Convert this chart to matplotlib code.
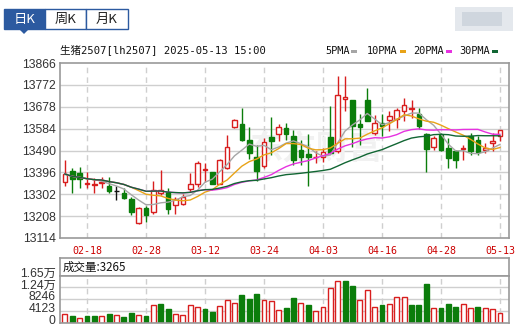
import numpy as np
import pandas as pd
import matplotlib
matplotlib.use("Agg")
import matplotlib.pyplot as plt
from matplotlib.patches import Rectangle, Polygon
from matplotlib.transforms import ScaledTranslation

# trading days shown in the chart
dates = ["02-13", "02-14", "02-17", "02-18", "02-19", "02-20", "02-21", "02-24", "02-25", "02-26",
         "02-27", "02-28", "03-03", "03-04", "03-05", "03-06", "03-07", "03-10", "03-11", "03-12",
         "03-13", "03-14", "03-17", "03-18", "03-19", "03-20", "03-21", "03-24", "03-25", "03-26",
         "03-27", "03-28", "03-31", "04-01", "04-02", "04-03", "04-07", "04-08", "04-09", "04-10",
         "04-11", "04-14", "04-15", "04-16", "04-17", "04-18", "04-21", "04-22", "04-23", "04-24",
         "04-25", "04-28", "04-29", "04-30", "05-06", "05-07", "05-08", "05-09", "05-12", "05-13"]

opens = [13353, 13402, 13395, 13344, 13342, 13352, 13337, 13316, 13308, 13282,
         13178, 13244, 13224, 13308, 13312, 13257, 13261, 13324, 13348, 13406,
         13396, 13348, 13413, 13591, 13606, 13536, 13461, 13423, 13548, 13561,
         13588, 13551, 13493, 13474, 13460, 13464, 13546, 13486, 13710, 13705,
         13606, 13705, 13565, 13609, 13620, 13625, 13658, 13668, 13648, 13563,
         13505, 13555, 13501, 13487, 13498, 13551, 13537, 13494, 13523, 13551]
highs = [13449, 13413, 13421, 13399, 13370, 13374, 13374, 13337, 13331, 13290,
         13247, 13250, 13358, 13406, 13327, 13290, 13305, 13392, 13445, 13435,
         13398, 13452, 13558, 13627, 13671, 13590, 13514, 13543, 13635, 13604,
         13608, 13580, 13536, 13561, 13486, 13500, 13681, 13811, 13811, 13705,
         13645, 13758, 13642, 13645, 13659, 13674, 13716, 13708, 13672, 13565,
         13551, 13565, 13544, 13491, 13515, 13565, 13551, 13522, 13565, 13580]
lows = [13337, 13309, 13327, 13327, 13308, 13331, 13308, 13276, 13280, 13211,
        13175, 13182, 13218, 13298, 13218, 13218, 13254, 13312, 13334, 13353,
        13344, 13344, 13410, 13585, 13529, 13454, 13358, 13413, 13471, 13529,
        13536, 13428, 13428, 13338, 13435, 13442, 13478, 13478, 13659, 13507,
        13515, 13616, 13558, 13551, 13572, 13587, 13615, 13630, 13583, 13398,
        13491, 13487, 13414, 13414, 13451, 13472, 13472, 13480, 13487, 13530]
closes = [13389, 13369, 13366, 13351, 13348, 13356, 13316, 13316, 13286, 13225,
          13243, 13214, 13322, 13322, 13240, 13283, 13290, 13348, 13438, 13410,
          13348, 13450, 13504, 13623, 13533, 13478, 13402, 13525, 13529, 13591,
          13562, 13450, 13464, 13464, 13464, 13483, 13478, 13727, 13718, 13594,
          13591, 13616, 13609, 13594, 13638, 13665, 13684, 13673, 13594, 13497,
          13544, 13491, 13458, 13451, 13502, 13487, 13483, 13501, 13530, 13580]

volumes = [2945, 2356, 1531, 2356, 2356, 2356, 3063, 2709, 2003, 3416,
           2709, 2356, 6243, 6597, 4830, 2945, 2709, 6125, 5536, 4830,
           3769, 5890, 8010, 6832, 9777, 8363, 10131, 8010, 7657, 4476,
           5183, 8717, 6832, 6243, 4123, 5536, 12133, 14725, 14725, 12958,
           8010, 11544, 5536, 6243, 6479, 9071, 9071, 6243, 6243, 13665,
           5183, 5183, 6597, 5536, 6479, 5183, 5536, 5183, 4712, 3265]
# 1 = red bar, 0 = green bar (as drawn in the volume panel)
vol_up = [1, 0, 1, 0, 0, 1, 0, 1, 0, 0,
          1, 0, 1, 0, 0, 1, 1, 1, 1, 0,
          0, 1, 1, 1, 0, 0, 0, 1, 1, 1,
          0, 0, 1, 0, 1, 1, 1, 1, 0, 0,
          1, 1, 1, 0, 1, 1, 1, 0, 0, 0,
          1, 0, 0, 0, 1, 1, 0, 1, 1, 1]

tick_dates = ["02-18", "02-28", "03-12", "03-24", "04-03", "04-16", "04-28", "05-13"]
price_ticks = [13114, 13208, 13302, 13396, 13490, 13584, 13678, 13772, 13866]
vol_ticks = [0, 4123, 8246, 12369, 16492]
vol_labels = ["0", "4123", "8246", "1.24万", "1.65万"]
ma_periods = [5, 10, 20, 30]
ma_colors = ["#a6a6a6", "#e8a317", "#e632e0", "#116633"]

RED = "#d81e1e"
GREEN = "#0b7d0b"
GRID = "#cfcfcf"
BORDER = "#999999"

W, H = 518, 328
def fx(x):
    return x / W
def fy(y):
    return 1 - y / H

fig = plt.figure(figsize=(W / 100, H / 100), dpi=100)
fig.patch.set_facecolor("white")

# ---- tabs ----
tab_blue = "#2c5aa0"
tabs = [("日K", 4, 45), ("周K", 45, 86), ("月K", 86, 128)]
for k, (name, x0, x1) in enumerate(tabs):
    fig.patches.append(Rectangle((fx(x0), fy(29)), (x1 - x0) / W, 20 / H, transform=fig.transFigure,
                                 facecolor=tab_blue if k == 0 else "white", edgecolor=tab_blue, lw=1))
    fig.text(fx((x0 + x1) / 2), fy(19), name, ha="center", va="center", fontsize=9.5,
             color="white" if k == 0 else "#222222", family=["Noto Sans CJK SC"])
fig.patches.append(Polygon([(fx(19), fy(29)), (fx(29), fy(29)), (fx(24), fy(34))], closed=True,
                           transform=fig.transFigure, facecolor=tab_blue, edgecolor="none"))

# blurred block top right
fig.patches.append(Rectangle((fx(455), fy(31)), 58 / W, 24 / H, transform=fig.transFigure,
                             facecolor="#e4e8ed", edgecolor="none"))
fig.patches.append(Rectangle((fx(462), fy(26)), 40 / W, 14 / H, transform=fig.transFigure,
                             facecolor="#cfd6de", edgecolor="none"))

# ---- title + legend ----
mono = ["DejaVu Sans Mono", "Noto Sans CJK SC"]
fig.text(fx(60), fy(50), "生猪2507[lh2507] 2025-05-13 15:00", ha="left", va="center",
         fontsize=7.6, family=mono, color="#111111")
leg_x = [325, 367, 413, 459]
for lx, p, c in zip(leg_x, ma_periods, ma_colors):
    label = "%dPMA" % p
    fig.text(fx(lx), fy(51), label, ha="left", va="center", fontsize=7.4, family=mono, color="#111111")
    sx = lx + len(label) * 6.1 + 2
    fig.patches.append(Rectangle((fx(sx), fy(53)), 6 / W, 3 / H, transform=fig.transFigure,
                                 facecolor=c, edgecolor="none"))

# ---- main price axes ----
n = len(dates)
x = np.arange(n)
tick_idx = [dates.index(d) for d in tick_dates]

ax = fig.add_axes([fx(60), fy(238), 449 / W, 175 / H])
ax.set_xlim(-0.66, 60.22)
ax.set_ylim(price_ticks[0], price_ticks[-1])
ax.set_yticks(price_ticks)
ax.set_yticklabels([str(t) for t in price_ticks], fontsize=8.8, family="Liberation Sans", color="#333333")
ax.set_xticks(tick_idx)
ax.set_xticklabels(tick_dates, fontsize=7.2, family="DejaVu Sans Mono", color="#cc0000")
ax.tick_params(length=0, pad=3)
ax.tick_params(axis="x", pad=6)
for t in price_ticks[1:-1]:
    ax.axhline(t, color=GRID, lw=1, zorder=0)
for i in tick_idx:
    ax.axvline(i, color=GRID, lw=1, ls=(0, (4, 3)), zorder=0)
for s in ax.spines.values():
    s.set_color(BORDER)
    s.set_linewidth(1.2)

ax.text(34, 13492, "东方财富", ha="center", va="center", fontsize=24, color="#f1f1f1",
        family=["Noto Sans CJK SC"], fontweight="bold", zorder=0)

wid = 0.64
for i in range(n):
    o, h, l, c = opens[i], highs[i], lows[i], closes[i]
    if c > o:
        col, fill = RED, "white"
    elif c < o:
        col, fill = GREEN, GREEN
    else:
        col, fill = "#111111", "#111111"
    ax.vlines(i, l, h, color=col, lw=1, zorder=2)
    if c == o:
        ax.hlines(c, i - wid / 2, i + wid / 2, color=col, lw=1, zorder=3)
    else:
        ax.add_patch(Rectangle((i - wid / 2, min(o, c)), wid, max(abs(c - o), 2), facecolor=fill,
                               edgecolor=col, lw=1, zorder=3))

close_s = pd.Series(closes)
for p, c in zip(ma_periods, ma_colors):
    ma = close_s.rolling(p, min_periods=1).mean()
    ax.plot(x, ma, color=c, lw=1, zorder=4)

# ---- volume header ----
hax = fig.add_axes([fx(60), fy(275.7), 449 / W, 17.7 / H])
hax.set_xticks([])
hax.set_yticks([])
for s in hax.spines.values():
    s.set_color(BORDER)
    s.set_linewidth(1.2)
hax.text(0.005, 0.45, "成交量:%d" % volumes[-1], transform=hax.transAxes, ha="left", va="center",
         fontsize=8.3, family=["Noto Sans CJK SC"], color="#111111")

# ---- volume axes ----
vax = fig.add_axes([fx(60), fy(322.7), 449 / W, 47 / H])
vax.set_xlim(-0.66, 60.22)
vax.set_ylim(0, vol_ticks[-1])
vax.set_yticks(vol_ticks)
vax.set_yticklabels(vol_labels, fontsize=8.8, family=["Liberation Sans", "Noto Sans CJK SC"],
                    color="#333333")
vax.set_xticks([])
vax.tick_params(length=0, pad=3)
off = ScaledTranslation(0, 3.5 / 100, fig.dpi_scale_trans)
for lab in vax.get_yticklabels():
    lab.set_transform(lab.get_transform() + off)
for t in vol_ticks[1:-1]:
    vax.axhline(t, color=GRID, lw=1, zorder=0)
for i in tick_idx:
    vax.axvline(i, color=GRID, lw=1, ls=(0, (4, 3)), zorder=0)
for s in vax.spines.values():
    s.set_color(BORDER)
    s.set_linewidth(1.2)
vwid = 0.66
for i in range(n):
    if vol_up[i]:
        vax.add_patch(Rectangle((i - vwid / 2, 0), vwid, volumes[i], facecolor="white",
                                edgecolor=RED, lw=1, zorder=2))
    else:
        vax.add_patch(Rectangle((i - vwid / 2, 0), vwid, volumes[i], facecolor=GREEN,
                                edgecolor=GREEN, lw=1, zorder=2))

fig.savefig("out.png", dpi=100)
